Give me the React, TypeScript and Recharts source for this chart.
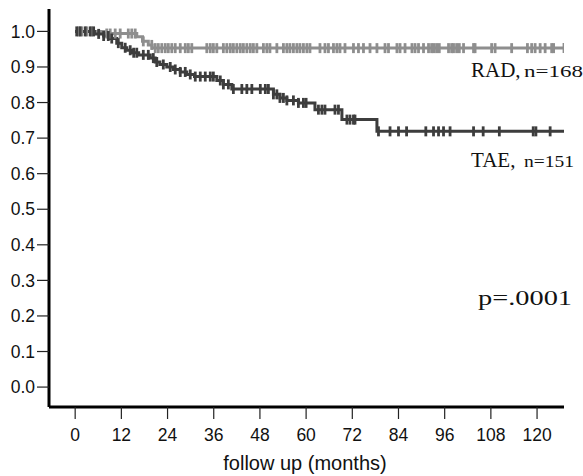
import React from 'react';
import { ComposedChart, Line, XAxis, YAxis } from 'recharts';

// step points: month of event, survival right after it
const radEventMonths = [0, 7.5, 16, 17.5, 19, 20];
const radEventSurv = [1.0, 0.994, 0.985, 0.972, 0.962, 0.953];
const radCensored = [
  0.9, 1.7, 3.0, 4.3, 8.2, 9.1, 10.4, 11.7, 13.8, 14.7, 15.6, 17.7, 19.9, 20.8, 21.6, 22.5, 23.4,
  24.2, 25.1, 26, 27.3, 28.6, 29.4, 30.3, 34.2, 35.1, 35.9, 36.8, 38.5, 39.4, 40.3, 41.1, 42.0,
  42.9, 43.7, 44.6, 45.5, 46.3, 47.2, 48.9, 49.8, 50.6, 52.4, 54.1, 55.0, 55.8, 56.7, 57.6, 58.4,
  59.3, 60.2, 61.0, 63.6, 64.9, 65.8, 67.1, 68.0, 68.8, 70.1, 72.3, 73.6, 74.9, 76.6, 78.4, 80.5,
  81.4, 83.6, 84.4, 85.7, 87.5, 88.3, 89.2, 90.5, 91.8, 92.6, 93.2, 93.9, 94.6, 97.0, 97.8, 98.3,
  99.1, 99.8, 100.9, 103.5, 103.9, 108.2, 109.1, 113.4, 117.5, 118.6, 119.5, 120.8, 122.1, 123.8,
  124.3, 127,
];

const taeEventMonths = [
  0, 5, 7.4, 9.1, 10.8, 12.1, 13.4, 14.7, 16.5, 19.5, 20.8, 22, 23.8, 25.5, 27.3, 29, 31, 36.8,
  38.5, 40.7, 51.5, 53.2, 55, 58, 62.3, 69.3, 78.4,
];
const taeEventSurv = [
  1.0, 0.993, 0.987, 0.98, 0.967, 0.954, 0.947, 0.94, 0.934, 0.925, 0.914, 0.907, 0.9, 0.893,
  0.886, 0.879, 0.873, 0.862, 0.851, 0.838, 0.823, 0.813, 0.806, 0.799, 0.78, 0.752, 0.719,
];
const taeCensored = [
  0.4, 1.3, 2.6, 3.9, 4.8, 6.1, 7.4, 8.6, 9.5, 11.2, 13, 14.3, 15.2, 16, 17.7, 19, 20.3, 21.2, 22.9,
  24.7, 26, 27.3, 28.6, 29.9, 31.2, 32.5, 33.8, 35.1, 35.9, 37.7, 38.5, 39.8, 41.1, 43.3, 44.6,
  45.9, 48.1, 49.4, 50.2, 51.5, 52.4, 53.2, 54.1, 55, 56.7, 58, 59.3, 60, 63.2, 64.1, 64.9, 67.5,
  68.4, 70.6, 71.4, 72.3, 72.7, 78.8, 81.8, 84, 86.1, 91.1, 93.1, 94.4, 95.7, 97.4, 103.5, 106,
  110.2, 119, 119.7, 123.4,
];
const taeLastMonth = 127;

const monthTicks = [0, 12, 24, 36, 48, 60, 72, 84, 96, 108, 120];
const survTicks = [0, 0.1, 0.2, 0.3, 0.4, 0.5, 0.6, 0.7, 0.8, 0.9, 1.0];

type Row = { t: number; s: number; c: boolean };

const buildRows = (evT: number[], evS: number[], cens: number[], end?: number): Row[] => {
  const survAt = (t: number) => {
    let s = evS[0];
    evT.forEach((et, i) => {
      if (et <= t) s = evS[i];
    });
    return s;
  };
  const rows: Row[] = evT.map((t, i) => ({ t, s: evS[i], c: false }));
  cens.forEach((t) => rows.push({ t, s: survAt(t), c: true }));
  if (end !== undefined) rows.push({ t: end, s: survAt(end), c: false });
  return rows.sort((a, b) => a.t - b.t || Number(a.c) - Number(b.c));
};

const radRows = buildRows(radEventMonths, radEventSurv, radCensored);
const taeRows = buildRows(taeEventMonths, taeEventSurv, taeCensored, taeLastMonth);

const censorDot = (color: string) => (props: any) => {
  const { cx, cy, payload, index } = props;
  if (!payload || !payload.c) return <g key={`n-${index}`} />;
  return (
    <line key={`c-${index}`} x1={cx} x2={cx} y1={cy - 5} y2={cy + 5} stroke={color} strokeWidth={2.8} />
  );
};

const RAD_COLOR = '#8e8e8e';
const TAE_COLOR = '#3d3d3d';
const sans = '"Liberation Sans", Arial, sans-serif';
const serif = '"Liberation Serif", "Times New Roman", serif';

export default function App() {
  return (
    <div style={{ position: 'absolute', left: 0, top: 0, background: '#fff' }}>
      <ComposedChart width={583} height={476} margin={{ top: 9, right: 19, bottom: 29, left: 0 }}>
        <XAxis
          type="number"
          dataKey="t"
          domain={[-6.8, 127]}
          ticks={monthTicks}
          allowDataOverflow
          height={40}
          axisLine={{ stroke: '#000', strokeWidth: 3 }}
          tickLine={{ stroke: '#222', strokeWidth: 1.2 }}
          tickSize={12}
          tickMargin={10}
          tick={{ fontSize: 17.5, fill: '#111', fontFamily: sans }}
        />
        <YAxis
          type="number"
          dataKey="s"
          domain={[-0.056, 1.063]}
          ticks={survTicks}
          allowDataOverflow
          width={49}
          tickFormatter={(v: number) => v.toFixed(1)}
          axisLine={{ stroke: '#000', strokeWidth: 3 }}
          tickLine={{ stroke: '#222', strokeWidth: 1.2 }}
          tickSize={12}
          tickMargin={2}
          tick={{ fontSize: 17.5, fill: '#111', fontFamily: sans }}
        />
        <Line
          data={radRows}
          dataKey="s"
          type="stepAfter"
          stroke={RAD_COLOR}
          strokeWidth={3}
          dot={censorDot(RAD_COLOR)}
          activeDot={false}
          isAnimationActive={false}
        />
        <Line
          data={taeRows}
          dataKey="s"
          type="stepAfter"
          stroke={TAE_COLOR}
          strokeWidth={3}
          dot={censorDot(TAE_COLOR)}
          activeDot={false}
          isAnimationActive={false}
        />
        <text x={305} y={470} textAnchor="middle" fontSize={20} fill="#111" fontFamily={sans}>
          follow up (months)
        </text>
        <text x={471} y={77} fontSize={21} fill="#111" fontFamily={serif}>RAD,</text>
        <text x={524} y={77} fontSize={16} fill="#111" fontFamily={serif} textLength={59} lengthAdjust="spacingAndGlyphs">n=168</text>
        <text x={471} y={167} fontSize={21} fill="#111" fontFamily={serif}>TAE,</text>
        <text x={524} y={167} fontSize={16} fill="#111" fontFamily={serif} textLength={50} lengthAdjust="spacingAndGlyphs">n=151</text>
        <text x={478} y={305} fontSize={21} fill="#111" fontFamily={serif} textLength={94} lengthAdjust="spacingAndGlyphs">p=.0001</text>
      </ComposedChart>
    </div>
  );
}
